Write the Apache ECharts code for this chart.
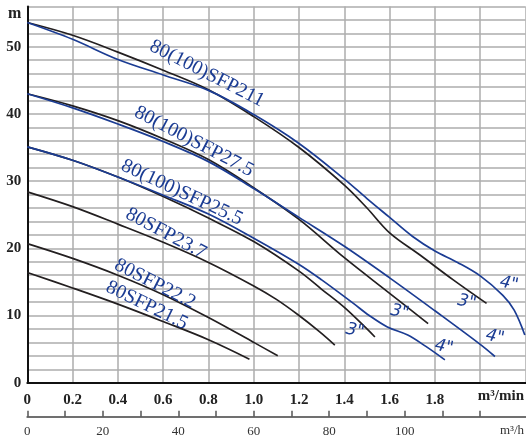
<!DOCTYPE html>
<html><head><meta charset="utf-8">
<script src="https://cdn.jsdelivr.net/npm/echarts@6/dist/echarts.min.js"></script>
<style>html,body{margin:0;padding:0;background:#fff}#c{width:526px;height:441px}</style>
</head><body><div id="c"></div>
<script>
// ---- data (flow m3/min, head m) ----
const sfp211Black = [[0,53.6],[0.2,51.7],[0.4,49.2],[0.6,46.5],[0.8,43.6],[1.0,39.6],[1.2,35.0],[1.4,29.4],[1.5,26.0],[1.6,22.3],[1.734,19.0],[1.881,15.3],[2.028,11.8]];
const sfp211Blue  = [[0,53.6],[0.2,51.1],[0.4,48.1],[0.6,45.8],[0.8,43.5],[1.0,39.9],[1.2,35.6],[1.4,30.3],[1.5,27.4],[1.6,24.6],[1.7,21.8],[1.8,19.6],[1.9,17.9],[2.0,15.9],[2.1,13.0],[2.15,10.8],[2.197,7.1]];
const sfp275Black = [[0,43.0],[0.2,41.2],[0.4,39.0],[0.6,36.3],[0.8,33.2],[1.0,29.0],[1.2,24.3],[1.4,18.6],[1.6,13.3],[1.77,8.8]];
const sfp275Blue  = [[0,43.0],[0.2,40.9],[0.4,38.5],[0.6,35.9],[0.8,32.9],[1.0,28.9],[1.2,24.6],[1.4,20.3],[1.6,15.6],[1.8,10.7],[2.0,5.7],[2.065,3.9]];
const sfp255Black = [[0,35.1],[0.2,33.1],[0.4,30.6],[0.6,27.7],[0.8,24.5],[1.0,21.0],[1.2,16.6],[1.3,13.9],[1.4,11.2],[1.5,8.0],[1.535,6.8]];
const sfp255Blue  = [[0,35.1],[0.2,33.1],[0.4,30.6],[0.6,27.9],[0.8,25.1],[1.0,21.5],[1.2,17.6],[1.3,15.3],[1.44,11.8],[1.51,10.0],[1.59,8.3],[1.68,7.1],[1.76,5.4],[1.844,3.4]];
const sfp237 = [[0,28.4],[0.2,26.2],[0.4,23.6],[0.6,20.9],[0.8,17.9],[1.0,14.4],[1.1,12.4],[1.2,10.0],[1.29,7.6],[1.358,5.6]];
const sfp222 = [[0,20.7],[0.2,18.5],[0.4,16.0],[0.6,13.1],[0.8,9.7],[1.0,6.0],[1.106,4.0]];
const sfp215 = [[0,16.4],[0.2,14.1],[0.4,11.7],[0.6,9.1],[0.8,6.4],[0.981,3.5]];

const headLabels = [0,10,20,30,40,50];
const flowMinLabels = [0,0.2,0.4,0.6,0.8,1.0,1.2,1.4,1.6,1.8];
const flowHourTicks = [0,10,20,30,40,50,60,70,80,90,100,110,120];
const flowHourLabels = [0,20,40,60,80,100];

const modelNames = ['80(100)SFP211','80(100)SFP27.5','80(100)SFP25.5','80SFP23.7','80SFP22.2','80SFP21.5'];
const modelAt = [[0.793,46.0],[0.736,35.9],[0.683,28.3],[0.612,22.2],[0.564,14.7],[0.528,11.5]];
const modelRot = [27,27.5,25,28,27,26];
const sizeNames = ['3"','3"','4"','4"','3"','4"'];
const sizeAt = [[1.447,7.7],[1.645,10.5],[1.840,5.3],[2.065,6.8],[1.941,12.0],[2.127,14.7]];

const BLACK = '#231f20', BLUE = '#1b3c93';
const serif = '"Liberation Serif","Times New Roman",serif';

const curves = [
  [sfp211Black, BLACK],[sfp211Blue, BLUE],
  [sfp275Black, BLACK],[sfp275Blue, BLUE],
  [sfp255Black, BLACK],[sfp255Blue, BLUE],
  [sfp237, BLACK],[sfp222, BLACK],[sfp215, BLACK]
];

const chart = echarts.init(document.getElementById('c'), null, {renderer:'canvas'});
chart.setOption({
  animation:false,
  backgroundColor:'#fff',
  grid:{left:27.3, right:0.5, top:6.4, bottom:58.3, containLabel:false},
  xAxis:[{
    type:'value', min:0, max:2.2, interval:0.2, position:'bottom',
    axisLine:{show:true, onZero:false, lineStyle:{color:'#111', width:2}},
    axisTick:{show:false},
    axisLabel:{margin:10, fontFamily:serif, fontWeight:'bold', fontSize:15, color:'#222',
      customValues:flowMinLabels,
      formatter:v=> v===0 ? '0' : (v>1.85 ? '' : v.toFixed(1))},
    splitLine:{show:true, lineStyle:{color:'#acacac', width:1.5}}
  },{
    type:'value', min:0, max:132, position:'bottom', offset:34, interval:10,
    axisLine:{show:true, onZero:false, lineStyle:{color:'#707070', width:2}},
    axisTick:{show:true, inside:true, length:6, customValues:flowHourTicks, lineStyle:{color:'#555', width:1.5}},
    axisLabel:{margin:8, fontFamily:serif, fontSize:13, color:'#333', customValues:flowHourLabels,
      formatter:v=> flowHourLabels.indexOf(v)>=0 ? String(v) : ''},
    splitLine:{show:false}
  }],
  yAxis:{
    type:'value', min:0, max:56, interval:2,
    axisLine:{show:true, onZero:false, lineStyle:{color:'#111', width:2}},
    axisTick:{show:false},
    axisLabel:{margin:6, fontFamily:serif, fontWeight:'bold', fontSize:15, color:'#222',
      formatter:v=> headLabels.indexOf(v)>=0 ? String(v) : ''},
    splitLine:{show:true, lineStyle:{color:'#acacac', width:1.5}}
  },
  series: curves.map(([d,c])=>({
    type:'line', data:d, xAxisIndex:0, yAxisIndex:0, showSymbol:false, symbol:'none',
    smooth:0.35, lineStyle:{color:c, width:1.7}, z:3
  }))
});

const g = [];
modelNames.forEach((t,i)=>{
  const p = chart.convertToPixel({xAxisIndex:0,yAxisIndex:0}, modelAt[i]);
  g.push({type:'text', x:p[0], y:p[1], rotation:-modelRot[i]*Math.PI/180, z:10,
    style:{text:t, fill:BLUE, font:'20px '+serif, textAlign:'center', textVerticalAlign:'middle'}});
});
sizeNames.forEach((t,i)=>{
  const p = chart.convertToPixel({xAxisIndex:0,yAxisIndex:0}, sizeAt[i]);
  g.push({type:'text', x:p[0], y:p[1], rotation:-12*Math.PI/180, z:10,
    style:{text:t, fill:BLUE, font:'italic 17px "DejaVu Sans",sans-serif', textAlign:'center', textVerticalAlign:'middle'}});
});
g.push({type:'text', left:8, top:6, z:10, style:{text:'m', fill:'#222', font:'bold 16px '+serif}});
g.push({type:'text', right:2, top:389, z:10, style:{text:'m³/min', fill:'#222', font:'bold 15px '+serif}});
g.push({type:'text', right:2, top:424, z:10, style:{text:'m³/h', fill:'#333', font:'13px '+serif}});
chart.setOption({graphic:g});
</script></body></html>
